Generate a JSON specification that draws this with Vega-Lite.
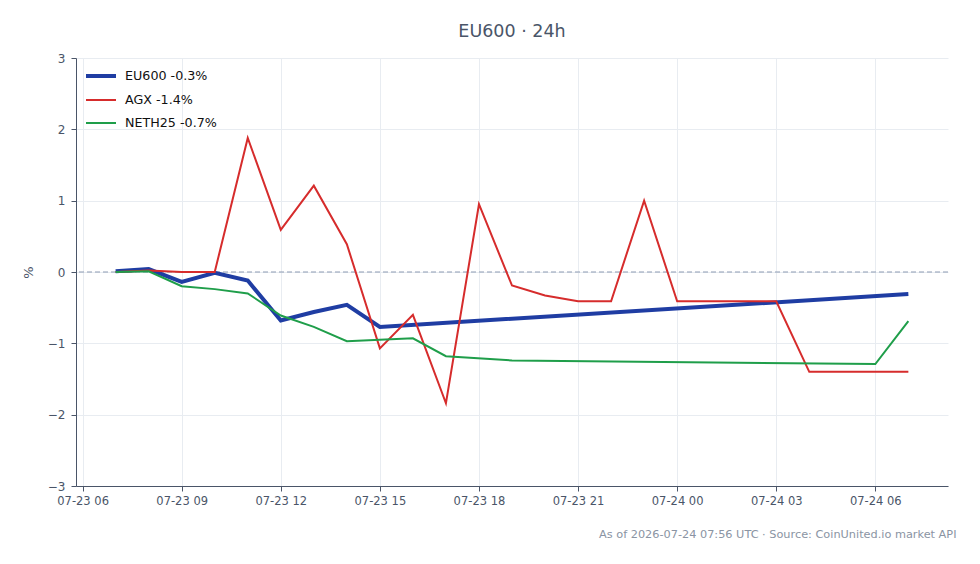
{
  "$schema": "https://vega.github.io/schema/vega-lite/v6.json",
  "width": 872,
  "height": 428,
  "autosize": {"type": "none"},
  "padding": {"left": 76, "top": 58, "right": 32, "bottom": 78},
  "background": "white",
  "title": {
    "text": "EU600 · 24h",
    "font": "DejaVu Sans",
    "fontSize": 17.5,
    "fontWeight": "normal",
    "color": "#4a5568",
    "anchor": "middle",
    "offset": 12
  },
  "config": {
    "view": {"stroke": null},
    "font": "DejaVu Sans",
    "axis": {
      "labelFont": "DejaVu Sans",
      "labelFontSize": 11.5,
      "labelColor": "#4a5568",
      "gridColor": "#e8ecf1",
      "gridWidth": 1,
      "domainColor": "#4a5568",
      "tickColor": "#4a5568",
      "tickSize": 5
    }
  },
  "datasets": {
    "series": [
      {"t": "2026-07-23T07:00:00Z", "s": "EU600 -0.3%", "v": 0.01},
      {"t": "2026-07-23T08:00:00Z", "s": "EU600 -0.3%", "v": 0.04},
      {"t": "2026-07-23T09:00:00Z", "s": "EU600 -0.3%", "v": -0.14},
      {"t": "2026-07-23T10:00:00Z", "s": "EU600 -0.3%", "v": -0.01},
      {"t": "2026-07-23T11:00:00Z", "s": "EU600 -0.3%", "v": -0.12},
      {"t": "2026-07-23T12:00:00Z", "s": "EU600 -0.3%", "v": -0.68},
      {"t": "2026-07-23T13:00:00Z", "s": "EU600 -0.3%", "v": -0.56},
      {"t": "2026-07-23T14:00:00Z", "s": "EU600 -0.3%", "v": -0.46},
      {"t": "2026-07-23T15:00:00Z", "s": "EU600 -0.3%", "v": -0.77},
      {"t": "2026-07-24T07:00:00Z", "s": "EU600 -0.3%", "v": -0.31},

      {"t": "2026-07-23T07:00:00Z", "s": "AGX -1.4%", "v": 0.0},
      {"t": "2026-07-23T08:00:00Z", "s": "AGX -1.4%", "v": 0.02},
      {"t": "2026-07-23T09:00:00Z", "s": "AGX -1.4%", "v": 0.0},
      {"t": "2026-07-23T10:00:00Z", "s": "AGX -1.4%", "v": 0.0},
      {"t": "2026-07-23T11:00:00Z", "s": "AGX -1.4%", "v": 1.88},
      {"t": "2026-07-23T12:00:00Z", "s": "AGX -1.4%", "v": 0.59},
      {"t": "2026-07-23T13:00:00Z", "s": "AGX -1.4%", "v": 1.21},
      {"t": "2026-07-23T14:00:00Z", "s": "AGX -1.4%", "v": 0.39},
      {"t": "2026-07-23T15:00:00Z", "s": "AGX -1.4%", "v": -1.07},
      {"t": "2026-07-23T16:00:00Z", "s": "AGX -1.4%", "v": -0.6},
      {"t": "2026-07-23T17:00:00Z", "s": "AGX -1.4%", "v": -1.84},
      {"t": "2026-07-23T18:00:00Z", "s": "AGX -1.4%", "v": 0.95},
      {"t": "2026-07-23T19:00:00Z", "s": "AGX -1.4%", "v": -0.19},
      {"t": "2026-07-23T20:00:00Z", "s": "AGX -1.4%", "v": -0.33},
      {"t": "2026-07-23T21:00:00Z", "s": "AGX -1.4%", "v": -0.41},
      {"t": "2026-07-23T22:00:00Z", "s": "AGX -1.4%", "v": -0.41},
      {"t": "2026-07-23T23:00:00Z", "s": "AGX -1.4%", "v": 1.0},
      {"t": "2026-07-24T00:00:00Z", "s": "AGX -1.4%", "v": -0.41},
      {"t": "2026-07-24T03:00:00Z", "s": "AGX -1.4%", "v": -0.41},
      {"t": "2026-07-24T04:00:00Z", "s": "AGX -1.4%", "v": -1.4},
      {"t": "2026-07-24T07:00:00Z", "s": "AGX -1.4%", "v": -1.4},

      {"t": "2026-07-23T07:00:00Z", "s": "NETH25 -0.7%", "v": 0.0},
      {"t": "2026-07-23T08:00:00Z", "s": "NETH25 -0.7%", "v": 0.01},
      {"t": "2026-07-23T09:00:00Z", "s": "NETH25 -0.7%", "v": -0.2},
      {"t": "2026-07-23T10:00:00Z", "s": "NETH25 -0.7%", "v": -0.24},
      {"t": "2026-07-23T11:00:00Z", "s": "NETH25 -0.7%", "v": -0.3},
      {"t": "2026-07-23T12:00:00Z", "s": "NETH25 -0.7%", "v": -0.61},
      {"t": "2026-07-23T13:00:00Z", "s": "NETH25 -0.7%", "v": -0.77},
      {"t": "2026-07-23T14:00:00Z", "s": "NETH25 -0.7%", "v": -0.97},
      {"t": "2026-07-23T15:00:00Z", "s": "NETH25 -0.7%", "v": -0.95},
      {"t": "2026-07-23T16:00:00Z", "s": "NETH25 -0.7%", "v": -0.93},
      {"t": "2026-07-23T17:00:00Z", "s": "NETH25 -0.7%", "v": -1.18},
      {"t": "2026-07-23T19:00:00Z", "s": "NETH25 -0.7%", "v": -1.24},
      {"t": "2026-07-24T06:00:00Z", "s": "NETH25 -0.7%", "v": -1.29},
      {"t": "2026-07-24T07:00:00Z", "s": "NETH25 -0.7%", "v": -0.69}
    ]
  },
  "layer": [
    {
      "data": {"values": [{"zero": 0}]},
      "mark": {"type": "rule", "color": "#8d9bb3", "strokeWidth": 1.2, "strokeDash": [5, 3]},
      "encoding": {
        "y": {"field": "zero", "type": "quantitative", "scale": {"domain": [-3, 3]}}
      }
    },
    {
      "data": {"name": "series"},
      "mark": {"type": "line", "strokeCap": "butt", "strokeJoin": "miter"},
      "encoding": {
        "x": {
          "field": "t",
          "type": "temporal",
          "scale": {
            "type": "utc",
            "domain": [
              {"year": 2026, "month": 7, "date": 23, "hours": 5, "minutes": 48, "utc": true},
              {"year": 2026, "month": 7, "date": 24, "hours": 8, "minutes": 12, "utc": true}
            ]
          },
          "axis": {
            "format": "%m-%d %H",
            "values": [
              {"year": 2026, "month": 7, "date": 23, "hours": 6, "utc": true},
              {"year": 2026, "month": 7, "date": 23, "hours": 9, "utc": true},
              {"year": 2026, "month": 7, "date": 23, "hours": 12, "utc": true},
              {"year": 2026, "month": 7, "date": 23, "hours": 15, "utc": true},
              {"year": 2026, "month": 7, "date": 23, "hours": 18, "utc": true},
              {"year": 2026, "month": 7, "date": 23, "hours": 21, "utc": true},
              {"year": 2026, "month": 7, "date": 24, "hours": 0, "utc": true},
              {"year": 2026, "month": 7, "date": 24, "hours": 3, "utc": true},
              {"year": 2026, "month": 7, "date": 24, "hours": 6, "utc": true}
            ],
            "labelPadding": 4,
            "title": "As of 2026-07-24 07:56 UTC · Source: CoinUnited.io market API",
            "titleFont": "DejaVu Sans",
            "titleFontSize": 11.3,
            "titleFontWeight": "normal",
            "titleColor": "#8a94a3",
            "titleAnchor": "end",
            "titleAlign": "right",
            "titleBaseline": "alphabetic",
            "titleX": 880,
            "titleY": 51
          }
        },
        "y": {
          "field": "v",
          "type": "quantitative",
          "scale": {"domain": [-3, 3]},
          "axis": {
            "values": [-3, -2, -1, 0, 1, 2, 3],
            "format": "d",
            "labelFontSize": 12,
            "title": "%",
            "titleFont": "DejaVu Sans",
            "titleFontSize": 13,
            "titleFontWeight": "normal",
            "titleColor": "#4a5568",
            "titlePadding": 12,
            "labelPadding": 6
          }
        },
        "color": {
          "field": "s",
          "type": "nominal",
          "scale": {
            "domain": ["EU600 -0.3%", "AGX -1.4%", "NETH25 -0.7%"],
            "range": ["#1f3da3", "#d62c2c", "#1f9e4a"]
          },
          "legend": {
            "title": null,
            "orient": "none",
            "legendX": 8,
            "legendY": 1,
            "symbolType": "stroke",
            "symbolSize": 900,
            "labelFont": "DejaVu Sans",
            "labelFontSize": 12.7,
            "labelColor": "#111111",
            "labelOffset": 7,
            "rowPadding": -3,
            "labelLimit": 300
          }
        },
        "strokeWidth": {
          "field": "s",
          "type": "nominal",
          "scale": {
            "type": "ordinal",
            "domain": ["EU600 -0.3%", "AGX -1.4%", "NETH25 -0.7%"],
            "range": [4, 2, 2]
          },
          "legend": {
            "title": null,
            "orient": "none",
            "legendX": 8,
            "legendY": 1,
            "symbolType": "stroke",
            "symbolSize": 900,
            "labelFont": "DejaVu Sans",
            "labelFontSize": 12.7,
            "labelColor": "#111111",
            "labelOffset": 7,
            "rowPadding": -3,
            "labelLimit": 300
          }
        }
      }
    }
  ]
}
